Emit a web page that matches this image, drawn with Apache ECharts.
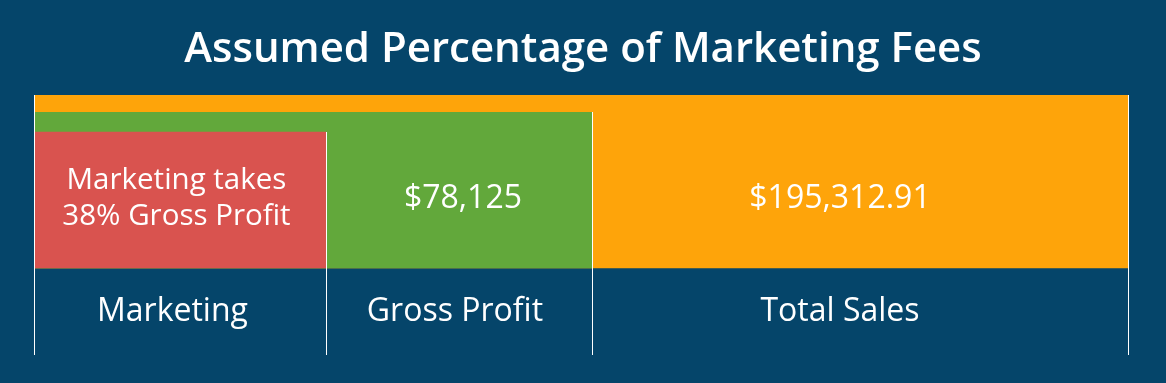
<!DOCTYPE html>
<html>
<head>
<meta charset="utf-8">
<script src="https://cdn.jsdelivr.net/npm/echarts@6/dist/echarts.min.js"></script>
<style>
  html, body { margin: 0; padding: 0; background: #05456A; }
  #chart { width: 1166px; height: 383px; }
</style>
</head>
<body>
<div id="chart"></div>
<script>
// ---- data ----
const titleText = 'Assumed Percentage of Marketing Fees';
const categories = ['Marketing', 'Gross Profit', 'Total Sales'];
const barLabels = ['Marketing takes\n38% Gross Profit', '$78,125', '$195,312.91'];
const amounts = [29687.5, 78125, 195312.91];
// extent of each nested bar, as a share (%) of the full chart width / height
const widthShare = [26.62, 50.96, 100];
const heightShare = [78.8, 90.2, 100];

// ---- styles ----
const barColors = ['#D9534F', '#62A83B', '#FEA40A'];
const FONT = '"Open Sans", "Noto Sans", sans-serif';
const labelShift = [-4, 4, -20];
const catShift = [-8, -4, -20];
const INNER_Y = 40;
const CAT_Y = -25;

const chart = echarts.init(document.getElementById('chart'), null, { renderer: 'canvas' });

const barData = [2, 1, 0].map(i => [widthShare[i], heightShare[i], i]);
const overlayData = categories.map((c, i) => [widthShare[i], heightShare[i], i, i === 0 ? 0 : widthShare[i - 1]]);

chart.setOption({
  backgroundColor: '#05456A',
  animation: false,
  title: {
    text: titleText,
    left: 'center',
    top: 24,
    textStyle: { color: '#ffffff', fontSize: 42, fontWeight: 600, fontFamily: FONT }
  },
  grid: { left: 35, right: 38, top: 95, bottom: 28 },
  xAxis: { type: 'value', min: 0, max: 100, show: false },
  yAxis: { type: 'value', min: -50, max: 100, show: false },
  series: [
    {
      type: 'custom',
      z: 2,
      data: barData,
      encode: { x: 0, y: 1 },
      renderItem: function (params, api) {
        const idx = api.value(2);
        const end = api.coord([api.value(0), api.value(1)]);
        const start = api.coord([0, 0]);
        return {
          type: 'rect',
          shape: { x: start[0], y: end[1], width: end[0] - start[0], height: start[1] - end[1] },
          style: { fill: barColors[idx] }
        };
      }
    },
    {
      type: 'custom',
      z: 5,
      data: overlayData,
      encode: { x: 0, y: 1 },
      renderItem: function (params, api) {
        const idx = api.value(2);
        const endX = api.value(0);
        const topY = api.value(1);
        const prevX = api.value(3);
        const pTop = api.coord([endX, topY]);
        const pBottom = api.coord([endX, -50]);
        const pLeft = api.coord([prevX, 0]);
        const cx = (pLeft[0] + pTop[0]) / 2;
        const children = [];
        const xr = Math.round(pTop[0]) + 0.5;
        children.push({
          type: 'line',
          shape: { x1: xr, y1: Math.round(pTop[1]), x2: xr, y2: pBottom[1] },
          style: { stroke: '#ffffff', lineWidth: 1 }
        });
        if (idx === 2) {
          const p0 = api.coord([0, topY]);
          const xl = Math.round(p0[0]) - 0.5;
          children.push({
            type: 'line',
            shape: { x1: xl, y1: Math.round(p0[1]), x2: xl, y2: pBottom[1] },
            style: { stroke: '#ffffff', lineWidth: 1 }
          });
        }
        const pIn = api.coord([0, INNER_Y]);
        children.push({
          type: 'text',
          x: cx + labelShift[idx],
          y: pIn[1],
          style: {
            text: barLabels[idx],
            fill: '#ffffff',
            fontSize: idx === 0 ? 29.5 : 32,
            fontFamily: FONT,
            lineHeight: 36,
            align: 'center',
            verticalAlign: 'middle'
          }
        });
        const pCat = api.coord([0, CAT_Y]);
        children.push({
          type: 'text',
          x: cx + catShift[idx],
          y: pCat[1],
          style: {
            text: categories[idx],
            fill: '#ffffff',
            fontSize: 32,
            fontFamily: FONT,
            align: 'center',
            verticalAlign: 'middle'
          }
        });
        return { type: 'group', children: children };
      }
    }
  ]
});
</script>
</body>
</html>
